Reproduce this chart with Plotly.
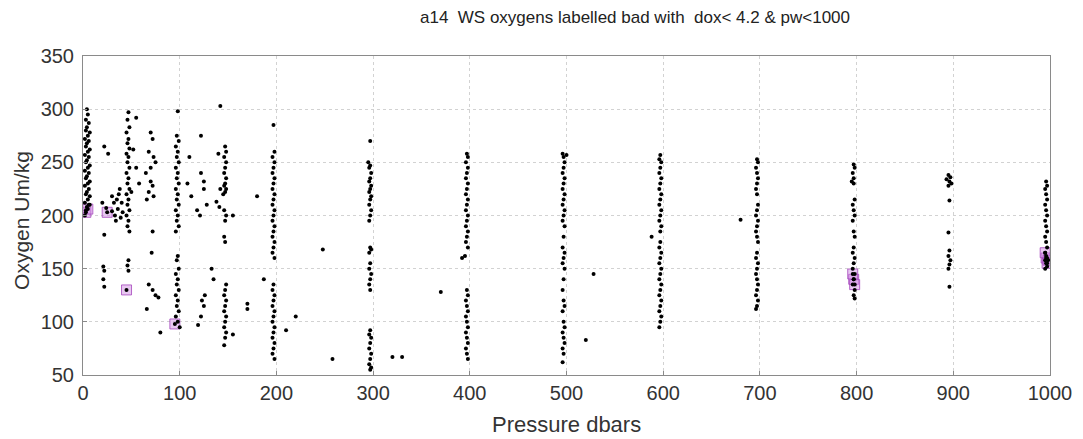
import plotly.graph_objects as go

# (pressure dbar, oxygen umol/kg)
surface = [(4,300),(5,295),(3,290),(6,287),(4,283),(3,280),(7,278),(5,275),(2,272),(6,270),
           (4,268),(3,265),(7,262),(5,260),(2,257),(6,255),(4,252),(3,250),(7,247),(5,245),
           (2,242),(6,240),(4,237),(3,235),(7,232),(5,230),(2,228),(6,225),(4,222),(3,220),
           (7,218),(5,215),(2,212),(6,210),(4,208),(3,205),(7,210),(2,200)]
shallow = [(22,265),(26,258),(20,212),(24,207),(22,182),(21,152),(22,148),(21,140),(22,133),
           (30,204),(33,200),(32,212),(35,215),(37,220),(40,212),(36,206),(39,198),(34,195),
           (41,203),(30,218),(38,225)]
p50 = [(47,297),(46,290),(48,283),(45,278),(47,272),(46,268),(48,263),(45,258),(47,255),(46,250),
       (48,245),(45,240),(47,235),(46,230),(48,225),(45,220),(47,215),(46,210),(48,205),(45,200),
       (47,195),(46,190),(48,185),(47,158),(46,153),(47,148),(55,292),(52,262),(55,245),(58,230),
       (50,222)]
p75 = [(70,278),(72,272),(68,260),(73,255),(75,250),(70,245),(65,240),(70,232),(72,228),(68,222),
       (73,218),(66,215),(72,185),(71,165),(68,135),(72,130),(75,125),(78,123),(66,112),(80,90)]
p100 = [(98,298),(97,275),(99,270),(96,265),(98,260),(97,255),(99,250),(96,245),(98,240),(97,235),
        (99,230),(96,225),(98,220),(97,215),(99,210),(96,205),(98,200),(97,195),(99,190),(96,185),
        (98,162),(97,158),(99,150),(96,145),(98,140),(97,135),(99,130),(96,125),(98,120),(97,115),
        (99,110),(96,105),(98,100),(100,95)]
scatter_mid = [(110,255),(108,230),(112,218),(118,205),(121,200),(122,275),(122,240),(125,232),
               (128,210),(125,225),(119,97),(122,105),(125,115),(123,120),(126,125),(133,150),
               (135,140),(138,213),(141,208),(140,258),(142,225),(145,220),(142,303),(155,88),
               (155,200),(170,112),(170,117),(180,218),(187,140)]
p150 = [(147,265),(148,260),(146,255),(148,250),(147,245),(146,240),(148,235),(147,230),(146,228),
        (148,225),(147,222),(146,205),(148,200),(147,195),(146,180),(147,175),(148,135),(147,130),
        (146,125),(148,120),(147,115),(146,110),(148,105),(147,100),(146,95),(148,90),(147,85),
        (146,78)]
p200 = [(197,285),(198,260),(196,255),(198,250),(197,245),(196,240),(198,235),(197,230),(196,225),
        (198,220),(197,215),(196,210),(198,205),(197,200),(196,195),(198,190),(197,185),(196,180),
        (198,175),(197,170),(196,165),(198,160),(197,135),(196,130),(198,125),(197,120),(196,115),
        (198,110),(197,105),(196,100),(198,95),(197,90),(196,85),(198,80),(197,75),(196,70),
        (198,65),(210,92),(220,105),(248,168),(258,65)]
p300 = [(297,270),(295,250),(297,247),(296,245),(298,240),(297,235),(296,232),(298,228),(297,225),
        (296,222),(298,218),(297,215),(296,210),(298,205),(297,200),(296,195),(297,170),(298,168),
        (296,165),(297,155),(296,150),(298,145),(297,140),(296,135),(297,130),(297,92),(296,88),
        (298,85),(297,80),(296,75),(298,70),(297,65),(296,60),(298,57),(297,55),(320,67),(330,67),
        (370,128)]
p400 = [(397,258),(398,255),(396,250),(398,245),(397,240),(396,235),(398,230),(397,225),(396,220),
        (398,215),(397,210),(396,205),(398,200),(397,195),(396,190),(398,185),(397,180),(396,175),
        (398,170),(395,162),(392,160),(397,130),(398,125),(396,120),(397,115),(398,110),(396,105),
        (397,100),(398,95),(396,90),(397,85),(398,80),(396,75),(397,70),(398,65)]
p500 = [(496,258),(500,257),(497,255),(498,250),(497,245),(496,240),(498,235),(497,230),(496,225),
        (498,220),(497,215),(496,210),(498,205),(497,200),(496,195),(498,190),(497,180),(496,170),
        (498,165),(497,160),(496,155),(498,150),(497,140),(496,130),(497,120),(498,115),(496,110),
        (497,100),(498,95),(496,90),(497,85),(498,80),(496,75),(497,70),(496,62),(520,83),(528,145)]
p600 = [(597,257),(596,253),(598,250),(597,245),(596,240),(598,235),(597,230),(596,225),(598,220),
        (597,215),(596,210),(598,205),(597,200),(596,195),(598,190),(597,185),(597,175),(596,170),
        (598,165),(597,160),(596,155),(598,150),(597,145),(596,140),(598,135),(597,130),(596,125),
        (598,120),(597,115),(596,110),(598,105),(597,100),(596,95),(588,180),(680,196)]
p700 = [(697,253),(698,250),(696,245),(697,240),(698,235),(697,230),(696,225),(697,220),(698,210),
        (697,205),(696,200),(698,195),(697,190),(696,185),(697,180),(698,175),(697,165),(696,160),
        (698,155),(697,150),(696,145),(697,140),(698,135),(697,130),(696,125),(698,120),(697,115),
        (696,112)]
p800 = [(797,248),(798,245),(796,240),(797,235),(795,232),(797,230),(798,215),(796,210),(797,205),
        (798,200),(796,195),(797,185),(798,180),(797,170),(796,165),(798,160),(797,155),(796,150),
        (798,145),(797,140),(796,135),(798,130),(797,125),(798,122)]
p900 = [(895,238),(897,236),(893,234),(896,232),(898,230),(895,228),(896,214),(895,184),(896,167),
        (895,162),(897,158),(896,154),(895,150),(896,133)]
p1000 = [(996,232),(997,228),(995,225),(996,220),(997,215),(995,210),(996,205),(997,200),(995,195),
         (996,190),(997,185),(995,180),(996,175),(997,170),(995,165),(996,162),(997,160),(995,158),
         (996,155),(997,152),(995,150)]
bad = [(3,203),(5,206),(25,203),(45,130),(95,98),(797,140),(798,135),(796,145),
       (996,160),(997,155),(995,165),(998,158)]

x_ticks = [0, 100, 200, 300, 400, 500, 600, 700, 800, 900, 1000]
y_ticks = [50, 100, 150, 200, 250, 300, 350]

groups = [surface, shallow, p50, p75, p100, scatter_mid, p150, p200, p300, p400, p500,
          p600, p700, p800, p900, p1000]
good_x = [p for g in groups for p, o in g]
good_y = [o for g in groups for p, o in g]
bad_x = [p for p, o in bad]
bad_y = [o for p, o in bad]

fig = go.Figure()
fig.add_trace(go.Scatter(x=bad_x, y=bad_y, mode="markers",
                         marker=dict(symbol="square", size=10, color="rgba(205,130,225,0.45)",
                                     line=dict(color="rgba(160,60,185,0.75)", width=1)),
                         showlegend=False, hoverinfo="skip"))
fig.add_trace(go.Scatter(x=good_x + bad_x, y=good_y + bad_y, mode="markers",
                         marker=dict(symbol="circle", size=4, color="black"),
                         showlegend=False))

font_family = "Liberation Sans, Arial, sans-serif"
W, H = 1075, 431  # page adds an 8px body margin
fig.update_layout(
    width=W, height=H,
    margin=dict(l=75, r=33, t=48, b=64, autoexpand=False),
    paper_bgcolor="white", plot_bgcolor="white",
    font=dict(family=font_family, color="#333333"),
    title=dict(text="a14\u00a0\u00a0WS oxygens labelled bad with\u00a0\u00a0dox&lt; 4.2 &amp; pw&lt;1000",
               x=627 / W, xanchor="center", xref="container",
               y=1 - 9 / H, yanchor="middle", yref="container",
               font=dict(size=17, color="#222222", family=font_family)),
    annotations=[
        dict(text="Pressure dbars", xref="paper", yref="paper", x=(558 - 75) / 967, y=-49 / 319,
             xanchor="center", yanchor="middle", showarrow=False,
             font=dict(size=22, color="#333333", family=font_family)),
        dict(text="Oxygen Um/kg", xref="paper", yref="paper", x=-61 / 967, y=0.483,
             xanchor="center", yanchor="middle", showarrow=False, textangle=-90,
             font=dict(size=21, color="#333333", family=font_family)),
    ],
)
fig.update_xaxes(range=[0, 1000], tickvals=x_ticks, ticktext=[str(v) for v in x_ticks],
                 showgrid=True, gridcolor="#d2d2d2", griddash="dot", gridwidth=1,
                 showline=True, linecolor="#8a8a8a", linewidth=1, mirror=True,
                 ticks="inside", ticklen=4, tickcolor="#8a8a8a", automargin=False,
                 tickfont=dict(size=20, color="#333333"), zeroline=False)
fig.update_yaxes(range=[50, 350], tickvals=y_ticks, ticktext=[str(v) for v in y_ticks],
                 showgrid=True, gridcolor="#d2d2d2", griddash="dot", gridwidth=1,
                 showline=True, linecolor="#8a8a8a", linewidth=1, mirror=True,
                 ticks="inside", ticklen=4, tickcolor="#8a8a8a", automargin=False,
                 ticklabelstandoff=4,
                 tickfont=dict(size=20, color="#333333"), zeroline=False)

fig.write_html("out.html")
